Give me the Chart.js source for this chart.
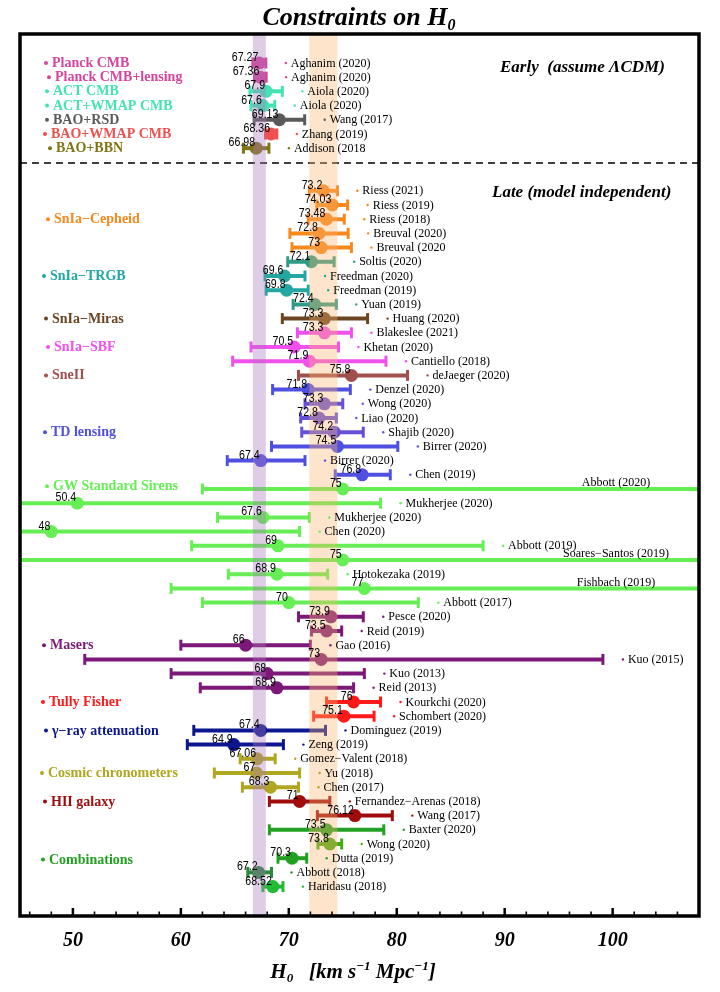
<!DOCTYPE html>
<html>
<head>
<meta charset="utf-8">
<script src="https://cdn.jsdelivr.net/npm/chart.js@4.4.0/dist/chart.umd.min.js"></script>
<style>
  html, body { margin: 0; padding: 0; background: #fff; }
  canvas { display: block; }
</style>
</head>
<body>
<canvas id="chart" width="720" height="992"></canvas>
<script>
// H0 constraints, values (central value, lower end, upper end)
const refs = [
    'Aghanim (2020)', 'Aghanim (2020)', 'Aiola (2020)', 'Aiola (2020)', 'Wang (2017)', 'Zhang (2019)', 'Addison (2018',
    'Riess (2021)', 'Riess (2019)', 'Riess (2018)', 'Breuval (2020)', 'Breuval (2020',
    'Soltis (2020)', 'Freedman (2020)', 'Freedman (2019)', 'Yuan (2019)',
    'Huang (2020)',
    'Blakeslee (2021)', 'Khetan (2020)', 'Cantiello (2018)',
    'deJaeger (2020)',
    'Denzel (2020)', 'Wong (2020)', 'Liao (2020)', 'Shajib (2020)', 'Birrer (2020)', 'Birrer (2020)', 'Chen (2019)',
    'Abbott (2020)', 'Mukherjee (2020)', 'Mukherjee (2020)', 'Chen (2020)', 'Abbott (2019)', 'Soares\u2212Santos (2019)', 'Hotokezaka (2019)', 'Fishbach (2019)', 'Abbott (2017)',
    'Pesce (2020)', 'Reid (2019)', 'Gao (2016)', 'Kuo (2015)', 'Kuo (2013)', 'Reid (2013)',
    'Kourkchi (2020)', 'Schombert (2020)',
    'Dominguez (2019)', 'Zeng (2019)',
    'Gomez\u2212Valent (2018)', 'Yu (2018)', 'Chen (2017)',
    'Fernandez\u2212Arenas (2018)', 'Wang (2017)',
    'Baxter (2020)', 'Wong (2020)', 'Dutta (2019)', 'Abbott (2018)', 'Haridasu (2018)'
];
const h0 = [
    67.27, 67.36, 67.9, 67.6, 69.13, 68.36, 66.98,
    73.2, 74.03, 73.48, 72.8, 73,
    72.1, 69.6, 69.8, 72.4,
    73.3,
    73.3, 70.5, 71.9,
    75.8,
    71.8, 73.3, 72.8, 74.2, 74.5, 67.4, 76.8,
    75, 50.4, 67.6, 48, 69, 75, 68.9, 77, 70,
    73.9, 73.5, 66, 73, 68, 68.9,
    76, 75.1,
    67.4, 64.9,
    67.06, 67, 68.3,
    71, 76.12,
    73.5, 73.8, 70.3, 67.2, 68.52
];
const lo = [
    66.67, 66.82, 66.4, 66.5, 66.79, 67.84, 65.8,
    71.9, 72.6, 71.8, 70.1, 70.3,
    69.9, 67.8, 67.9, 70.4,
    69.4,
    70.8, 66.5, 64.8,
    70.9,
    68.5, 71.5, 71.1, 71.2, 68.4, 64.3, 74.3,
    62.0, 30.9, 63.4, 33, 61.0, 43, 64.4, 59.1, 62.0,
    70.9, 72.1, 60.0, 51.1, 59.1, 61.8,
    73.5, 72.3,
    61.2, 60.6,
    65.5, 63.1, 65.7,
    68.2, 72.65,
    68.2, 72.7, 69.0, 66.2, 67.6
];
const hi = [
    67.87, 67.9, 69.4, 68.7, 71.47, 68.89, 68.16,
    74.5, 75.45, 75.14, 75.5, 75.8,
    74.2, 71.5, 71.8, 74.4,
    77.3,
    75.8, 74.6, 79.0,
    81.0,
    75.7, 75.0, 74.4, 76.9, 80.1, 71.5, 79.4,
    115, 78.5, 71.9, 71, 88.0, 115, 73.6, 114, 82.0,
    76.9, 74.9, 72.0, 99.1, 77.0, 76.0,
    78.5, 77.9,
    73.4, 69.5,
    68.74, 71, 70.9,
    73.8, 79.59,
    78.8, 74.9, 71.66, 68.4, 69.46
];
// which method each measurement belongs to
const rowGroup = [
    0, 1, 2, 3, 4, 5, 6,
    7, 7, 7, 7, 7,
    8, 8, 8, 8,
    9,
    10, 10, 10,
    11,
    12, 12, 12, 12, 12, 12, 12,
    13, 13, 13, 13, 13, 13, 13, 13, 13,
    14, 14, 14, 14, 14, 14,
    15, 15,
    16, 16,
    17, 17, 17,
    18, 18,
    19, 19, 19, 19, 19
];
const groupNames = [
    'Planck CMB', 'Planck CMB+lensing', 'ACT CMB', 'ACT+WMAP CMB', 'BAO+RSD', 'BAO+WMAP CMB', 'BAO+BBN',
    'SnIa\u2212Cepheid', 'SnIa\u2212TRGB', 'SnIa\u2212Miras', 'SnIa\u2212SBF', 'SneII', 'TD lensing',
    'GW Standard Sirens', 'Masers', 'Tully Fisher', '\u03b3\u2212ray attenuation', 'Cosmic chronometers',
    'HII galaxy', 'Combinations'
];
const xTicks = [50, 60, 70, 80, 90, 100];
const planckBand = [66.67, 67.87];
const riessBand = [71.9, 74.5];

// ---- styling / layout ----
const groupColors = [
    '#d6449c', '#d6449c', '#44e3b3', '#44e3b3', '#5a5a5a', '#f0504f', '#807514',
    '#f7891d', '#22a7a3', '#6b4522', '#f050ec', '#a0504c', '#5050e0',
    '#66ee55', '#7b1878', '#ff1a1a', '#0b168f', '#b0a620', '#a00c0c', '#22a022'
];
// a few points in the original are drawn in a slightly different shade
const colorFix = { 12: '#2e9a88', 15: '#2e9a88', 22: '#6650d8', 23: '#6650d8', 24: '#6650d8',
    53: '#44aa11', 55: '#2a8a3a', 56: '#22bb33' };
const rowColor = i => colorFix[i] || groupColors[rowGroup[i]];
// early rows sit at 0..6, late rows start after a gap of two rows
const rows = h0.map((v, i) => i < 7 ? i : i + 2);
const dividerRow = 7.04;
const groupLabelRow = [0, 1, 2, 3, 4, 5, 6, 11, 15, 18, 20, 22, 26, 29.8, 41, 45, 47, 50, 52, 56.1];
const groupLabelX = [46, 49, 47, 47, 47, 45, 50, 48, 44, 46, 48, 46, 45, 47, 44, 43, 46, 42, 45, 43];

const SERIF = '"Liberation Serif", "Times New Roman", serif';
const SANS = '"Liberation Sans", Arial, sans-serif';

// draw a row of text pieces (for sub/superscripts)
function drawRuns(ctx, runs, x, y, align) {
    let w = 0;
    runs.forEach(r => { ctx.font = r[1]; w += ctx.measureText(r[0]).width; });
    let cx = align === 'center' ? x - w / 2 : x;
    ctx.textAlign = 'left';
    runs.forEach(r => {
        ctx.font = r[1];
        ctx.fillText(r[0], cx, y + (r[2] || 0));
        cx += ctx.measureText(r[0]).width;
    });
}

const h0Plugin = {
    id: 'h0Plugin',
    beforeDatasetsDraw(chart) {
        const { ctx, chartArea: a, scales: { x, y } } = chart;
        ctx.save();
        ctx.beginPath();
        ctx.rect(a.left, a.top, a.width, a.height);
        ctx.clip();

        // early / late divider
        const yd = y.getPixelForValue(dividerRow);
        ctx.setLineDash([7, 5]);
        ctx.lineWidth = 1.5;
        ctx.strokeStyle = '#000';
        ctx.beginPath();
        ctx.moveTo(a.left, yd);
        ctx.lineTo(a.right, yd);
        ctx.stroke();
        ctx.setLineDash([]);

        // error bars with caps
        h0.forEach((v, i) => {
            const yy = y.getPixelForValue(rows[i]);
            const x0 = x.getPixelForValue(lo[i]);
            const x1 = x.getPixelForValue(hi[i]);
            ctx.strokeStyle = rowColor(i);
            ctx.lineWidth = 4;
            ctx.beginPath();
            ctx.moveTo(x0, yy);
            ctx.lineTo(x1, yy);
            ctx.stroke();
            ctx.lineWidth = 3;
            [x0, x1].forEach(xc => {
                ctx.beginPath();
                ctx.moveTo(xc, yy - 5.5);
                ctx.lineTo(xc, yy + 5.5);
                ctx.stroke();
            });
        });
        ctx.restore();
    },
    afterDatasetsDraw(chart) {
        const { ctx, chartArea: a, scales: { x, y } } = chart;
        ctx.save();

        // Planck and SH0ES bands, drawn translucent over the data
        ctx.fillStyle = 'rgba(170,120,190,0.38)';
        let b0 = x.getPixelForValue(planckBand[0]), b1 = x.getPixelForValue(planckBand[1]);
        ctx.fillRect(b0, a.top, b1 - b0, a.height);
        ctx.fillStyle = 'rgba(250,180,110,0.36)';
        b0 = x.getPixelForValue(riessBand[0]);
        b1 = x.getPixelForValue(riessBand[1]);
        ctx.fillRect(b0, a.top, b1 - b0, a.height);

        // value above each point
        ctx.fillStyle = '#000';
        ctx.textBaseline = 'alphabetic';
        h0.forEach((v, i) => {
            const xx = x.getPixelForValue(v);
            const yy = y.getPixelForValue(rows[i]);
            ctx.save();
            ctx.translate(xx - 1, yy - 2);
            ctx.scale(0.85, 1);
            ctx.textAlign = 'right';
            ctx.font = '12.5px ' + SANS;
            ctx.fillText(String(v), 0, 0);
            ctx.restore();
        });

        // reference to the right of each bar
        ctx.textBaseline = 'middle';
        ctx.font = '12px ' + SERIF;
        refs.forEach((r, i) => {
            const yy = y.getPixelForValue(rows[i]);
            if (hi[i] > x.max) {
                ctx.fillStyle = '#000';
                ctx.textAlign = 'center';
                ctx.fillText(r, 616, yy - 6);
                return;
            }
            const dx = x.getPixelForValue(hi[i]) + 20;
            ctx.fillStyle = rowColor(i);
            ctx.beginPath();
            ctx.arc(dx, yy, 1.2, 0, Math.PI * 2);
            ctx.fill();
            ctx.fillStyle = '#000';
            ctx.textAlign = 'left';
            ctx.fillText(r, dx + 5, yy + 0.5);
        });

        // method names on the left
        ctx.font = 'bold 14px ' + SERIF;
        groupNames.forEach((g, k) => {
            const yy = y.getPixelForValue(groupLabelRow[k]);
            const gx = groupLabelX[k];
            ctx.fillStyle = groupColors[k];
            ctx.beginPath();
            ctx.arc(gx, yy, 2, 0, Math.PI * 2);
            ctx.fill();
            ctx.textAlign = 'left';
            ctx.fillText(g, gx + 6, yy + 0.5);
        });

        // section headings
        ctx.fillStyle = '#000';
        ctx.textBaseline = 'alphabetic';
        ctx.textAlign = 'left';
        ctx.font = 'italic bold 17px ' + SERIF;
        ctx.fillText('Early  (assume \u039bCDM)', 500, 72);
        ctx.fillText('Late (model independent)', 492, 197);

        // frame and inward ticks
        ctx.strokeStyle = '#000';
        ctx.lineWidth = 3.5;
        ctx.strokeRect(a.left, a.top, a.width, a.height);
        for (let v = 46; v <= 106; v += 2) {
            const tx = x.getPixelForValue(v);
            const major = v % 10 === 0;
            ctx.lineWidth = major ? 2.5 : 1.6;
            ctx.beginPath();
            ctx.moveTo(tx, a.bottom);
            ctx.lineTo(tx, a.bottom - (major ? 8 : 4.5));
            ctx.stroke();
        }

        // title and axis title
        ctx.fillStyle = '#000';
        drawRuns(ctx, [
            ['Constraints on H', 'italic bold 26px ' + SERIF],
            ['0', 'italic bold 16px ' + SERIF, 5]
        ], 359, 25, 'center');
        drawRuns(ctx, [
            ['H', 'italic bold 21px ' + SERIF],
            ['0', 'italic bold 13px ' + SERIF, 4],
            ['   [km s', 'italic bold 21px ' + SERIF],
            ['\u22121', 'italic bold 13px ' + SERIF, -8],
            [' Mpc', 'italic bold 21px ' + SERIF],
            ['\u22121', 'italic bold 13px ' + SERIF, -8],
            [']', 'italic bold 21px ' + SERIF]
        ], 353, 978, 'center');
        ctx.restore();
    }
};

let chartElement = document.querySelector('#chart');
let chart = new Chart(chartElement, {
    type: 'scatter',
    data: {
        datasets: [{
            data: h0.map((v, i) => ({ x: v, y: rows[i] })),
            pointRadius: 6.5,
            pointBorderWidth: 0,
            pointBackgroundColor: h0.map((v, i) => rowColor(i))
        }]
    },
    options: {
        responsive: false,
        animation: false,
        events: [],
        layout: { padding: { left: 20, right: 21, top: 34, bottom: 26 } },
        plugins: { legend: { display: false }, tooltip: { enabled: false } },
        scales: {
            x: {
                type: 'linear',
                min: 45.1,
                max: 108,
                afterBuildTicks: s => { s.ticks = xTicks.map(v => ({ value: v })); },
                grid: { display: false, drawTicks: false },
                border: { display: false },
                ticks: {
                    color: '#000',
                    padding: 13,
                    maxRotation: 0,
                    autoSkip: false,
                    font: { family: SERIF, size: 20, style: 'italic', weight: 'bold' }
                }
            },
            y: { type: 'linear', min: -2.04, max: 60.07, reverse: true, display: false }
        }
    },
    plugins: [h0Plugin]
});
</script>
</body>
</html>
